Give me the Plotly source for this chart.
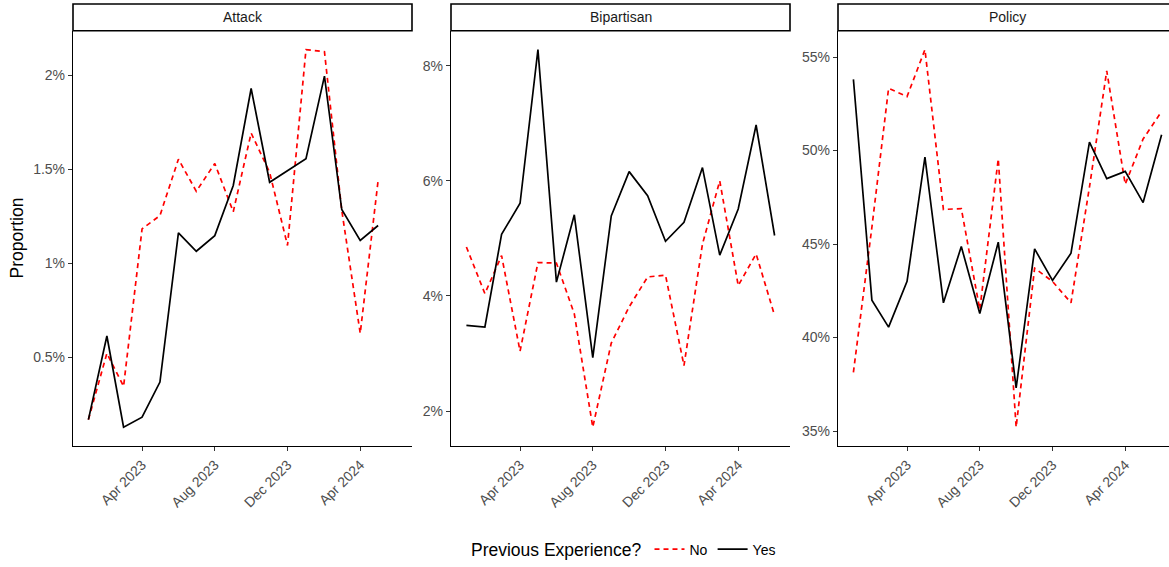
import pandas as pd
import plotly.graph_objects as go

# ---------------- data ----------------
months = pd.date_range("2023-01-01", "2024-06-01", freq="MS")

attack_yes = [0.169, 0.614, 0.129, 0.182, 0.369, 1.163, 1.065, 1.148, 1.415, 1.931,
              1.432, 1.494, 1.557, 1.997, 1.287, 1.123, 1.202]
attack_no = [0.169, 0.522, 0.346, 1.184, 1.255, 1.555, 1.384, 1.532, 1.275, 1.694,
             1.485, 1.096, 2.138, 2.127, 1.283, 0.628, 1.441]

bip_yes = [3.49, 3.46, 5.07, 5.61, 8.28, 4.24, 5.41, 2.93, 5.39, 6.16,
           5.74, 4.95, 5.28, 6.23, 4.71, 5.51, 6.97, 5.05]
bip_no = [4.85, 4.04, 4.70, 3.04, 4.58, 4.57, 3.69, 1.72, 3.18, 3.81,
          4.33, 4.36, 2.79, 4.90, 6.00, 4.18, 4.73, 3.66]

policy_yes = [53.81, 42.00, 40.56, 43.01, 49.65, 41.86, 44.87, 41.29, 45.10, 37.31,
              44.74, 43.06, 44.51, 50.45, 48.50, 48.89, 47.22, 50.85]
policy_no = [38.14, 45.90, 53.33, 52.89, 55.40, 46.85, 46.90, 41.50, 49.56, 35.21,
             43.71, 43.00, 41.86, 48.05, 54.26, 48.20, 50.62, 52.09]

panel_names = ["Attack", "Bipartisan", "Policy"]
x_tick_dates = ["2023-04-01", "2023-08-01", "2023-12-01", "2024-04-01"]
x_tick_labels = ["Apr 2023", "Aug 2023", "Dec 2023", "Apr 2024"]

attack_ticks = [0.005, 0.01, 0.015, 0.02]
attack_tick_labels = ["0.5%", "1%", "1.5%", "2%"]
bip_ticks = [0.02, 0.04, 0.06, 0.08]
bip_tick_labels = ["2%", "4%", "6%", "8%"]
policy_ticks = [0.35, 0.40, 0.45, 0.50, 0.55]
policy_tick_labels = ["35%", "40%", "45%", "50%", "55%"]

legend_title = "Previous Experience?"
series_labels = ["No", "Yes"]

# ---------------- layout geometry ----------------
W, H = 1169, 567
FONT = "Liberation Sans, Arial, sans-serif"

def fx(px):
    return px / W

def fy(py):
    return 1 - py / H

panels_px = [(73, 412), (451, 790), (838, 1177)]
panel_top, panel_bottom = 31, 450
strip_top = 4

# x range (ggplot 5% expansion)
d0, d1 = months[0], months[-1]
span = d1 - d0
x0 = d0 - 0.05 * span
x1 = d1 + 0.05 * span

def yrange(*series):
    vals = [v / 100 for s in series for v in s]
    lo, hi = min(vals), max(vals)
    pad = 0.05 * (hi - lo)
    return [lo - pad, hi + pad]

fig = go.Figure()

data_sets = [
    (attack_no, attack_yes, months[:len(attack_yes)]),
    (bip_no, bip_yes, months),
    (policy_no, policy_yes, months),
]

for i, (no_vals, yes_vals, xs) in enumerate(data_sets):
    ax = "" if i == 0 else str(i + 1)
    fig.add_trace(go.Scatter(
        x=xs, y=[v / 100 for v in no_vals], mode="lines",
        line=dict(color="#FF0000", width=1.7, dash="5px,4px"),
        name=series_labels[0], legendgroup="no", showlegend=(i == 0),
        xaxis="x" + ax, yaxis="y" + ax))
    fig.add_trace(go.Scatter(
        x=xs, y=[v / 100 for v in yes_vals], mode="lines",
        line=dict(color="#000000", width=1.7),
        name=series_labels[1], legendgroup="yes", showlegend=(i == 0),
        xaxis="x" + ax, yaxis="y" + ax))

tick_font = dict(family=FONT, size=14, color="#4D4D4D")
y_specs = [
    (attack_ticks, attack_tick_labels, yrange(attack_no, attack_yes)),
    (bip_ticks, bip_tick_labels, yrange(bip_no, bip_yes)),
    (policy_ticks, policy_tick_labels, yrange(policy_no, policy_yes)),
]

layout_axes = {}
for i, (pl, pr) in enumerate(panels_px):
    ax = "" if i == 0 else str(i + 1)
    right_px = min(pr, W)
    frac = (right_px - pl) / (pr - pl)
    xr_end = x0 + (x1 - x0) * frac
    layout_axes["xaxis" + ax] = dict(
        domain=[fx(pl), fx(right_px)],
        range=[x0.strftime("%Y-%m-%d %H:%M:%S"), xr_end.strftime("%Y-%m-%d %H:%M:%S")],
        type="date", anchor="y" + ax,
        tickvals=x_tick_dates, ticktext=x_tick_labels, tickangle=-45,
        showline=True, linecolor="black", linewidth=1.3, mirror=False,
        ticks="outside", ticklen=4, tickcolor="#333333", tickwidth=1.2,
        showgrid=False, zeroline=False, tickfont=tick_font,
    )
    tv, tt, rng = y_specs[i]
    layout_axes["yaxis" + ax] = dict(
        domain=[fy(panel_bottom), fy(panel_top)],
        range=rng, anchor="x" + ax,
        tickvals=tv, ticktext=tt,
        showline=True, linecolor="black", linewidth=1.3, mirror=False,
        ticks="outside", ticklen=4, tickcolor="#333333", tickwidth=1.2,
        showgrid=False, zeroline=False, tickfont=tick_font,
    )

shapes = []
annotations = []
for i, (pl, pr) in enumerate(panels_px):
    shapes.append(dict(
        type="rect", xref="paper", yref="paper",
        x0=fx(pl), x1=fx(pr), y0=fy(panel_top), y1=fy(strip_top),
        line=dict(color="black", width=1.6), fillcolor="white", layer="above"))
    annotations.append(dict(
        xref="paper", yref="paper", x=fx((pl + pr) / 2), y=fy((panel_top + strip_top) / 2),
        text=panel_names[i], showarrow=False, xanchor="center", yanchor="middle",
        font=dict(family=FONT, size=14, color="#1A1A1A")))

annotations.append(dict(
    xref="paper", yref="paper", x=fx(17), y=fy((panel_top + panel_bottom) / 2),
    text="Proportion", textangle=-90, showarrow=False,
    xanchor="center", yanchor="middle",
    font=dict(family=FONT, size=17.5, color="black")))

fig.update_layout(
    width=W, height=H,
    margin=dict(l=0, r=0, t=0, b=0),
    paper_bgcolor="white", plot_bgcolor="white",
    font=dict(family=FONT),
    shapes=shapes, annotations=annotations,
    showlegend=True,
    legend=dict(
        orientation="h", x=fx(625), xanchor="center", y=fy(555), yanchor="middle",
        title=dict(text=legend_title, side="left", font=dict(family=FONT, size=17.5, color="black")),
        font=dict(family=FONT, size=14, color="black"),
        bgcolor="rgba(0,0,0,0)", itemwidth=30, tracegroupgap=0,
    ),
    **layout_axes,
)

fig.write_html(
    "out.html",
    config={"displayModeBar": False},
    post_script="document.body.style.margin='0';document.body.style.padding='0';"
                "document.documentElement.style.overflow='hidden';",
)
